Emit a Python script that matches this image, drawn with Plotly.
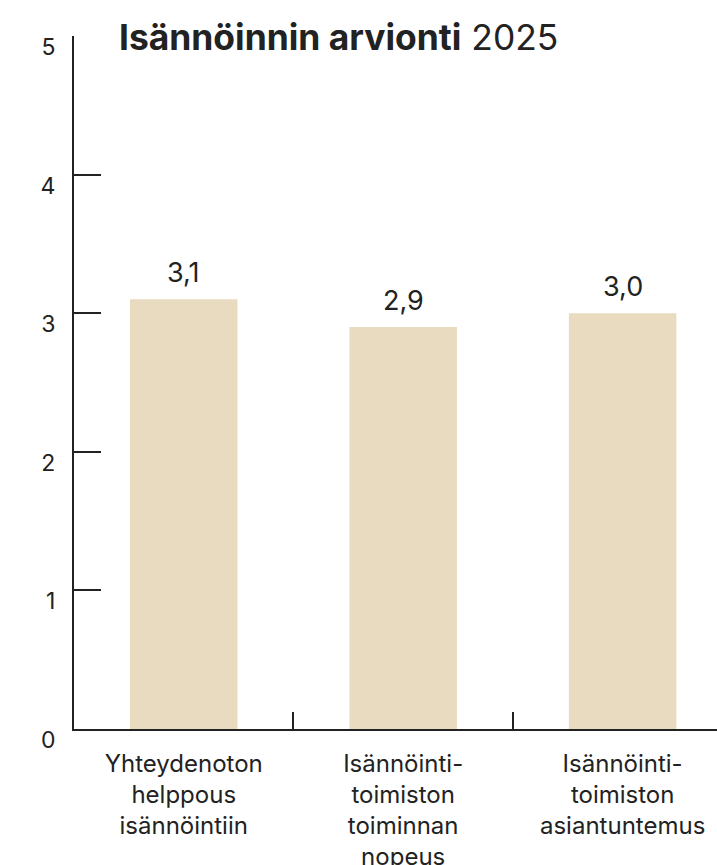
import plotly.graph_objects as go

# Survey items (category labels, with explicit line breaks)
categories = [
    "Yhteydenoton<br>helppous<br>isännöintiin",
    "Isännöinti-<br>toimiston<br>toiminnan<br>nopeus",
    "Isännöinti-<br>toimiston<br>asiantuntemus",
]
# Average ratings on a 0–5 scale
ratings = [3.1, 2.9, 3.0]
rating_labels = ["3,1", "2,9", "3,0"]

y_ticks = [0, 1, 2, 3, 4, 5]

INK = "#222222"
BAR = "#E8DBC0"
FONT = "Inter, Roboto, 'DejaVu Sans', sans-serif"

W, H = 717, 865
M_L, M_R, M_T, M_B = 74, 0, 36, 136
PLOT_H = H - M_T - M_B

fig = go.Figure()

fig.add_trace(go.Bar(
    x=categories,
    y=ratings,
    width=0.49,
    marker=dict(color=BAR, line=dict(width=0)),
    hoverinfo="skip",
))

# Value labels above the bars
for cat, val, lab in zip(categories, ratings, rating_labels):
    fig.add_annotation(
        x=cat, y=val, xref="x", yref="y",
        text=lab, showarrow=False,
        yanchor="bottom", yshift=8,
        font=dict(family=FONT, size=27, color=INK),
    )

# Title: bold subject followed by the year in regular weight
fig.add_annotation(
    x=(117 - M_L) / (W - M_L - M_R),
    y=1 - 1 / PLOT_H,
    xref="paper", yref="paper",
    text="<b>Isännöinnin arvionti</b> 2025",
    showarrow=False, xanchor="left", yanchor="middle",
    font=dict(family=FONT, size=35.4, color=INK),
)

fig.update_layout(
    width=W, height=H,
    margin=dict(l=M_L, r=M_R, t=M_T, b=M_B, pad=0, autoexpand=False),
    paper_bgcolor="white", plot_bgcolor="white",
    showlegend=False,
    font=dict(family=FONT, color=INK),
)

fig.update_xaxes(
    type="category",
    range=[-0.5, 2.43],
    automargin=False,
    showgrid=False, zeroline=False,
    showline=True, linecolor=INK, linewidth=2,
    ticks="inside", tickson="boundaries", ticklen=17, tickwidth=2, tickcolor=INK,
    tickfont=dict(family=FONT, size=24, color=INK),
    ticklabelstandoff=12,
    fixedrange=True,
)

fig.update_yaxes(
    range=[0, 5],
    automargin=False,
    tickvals=y_ticks,
    ticktext=[str(v) for v in y_ticks],
    showgrid=False, zeroline=False,
    showline=True, linecolor=INK, linewidth=2,
    ticks="inside", ticklen=27, tickwidth=2, tickcolor=INK,
    tickfont=dict(family=FONT, size=23, color=INK),
    ticklabelshift=11,
    ticklabelstandoff=12,
    fixedrange=True,
)

fig.write_html("out.html")
